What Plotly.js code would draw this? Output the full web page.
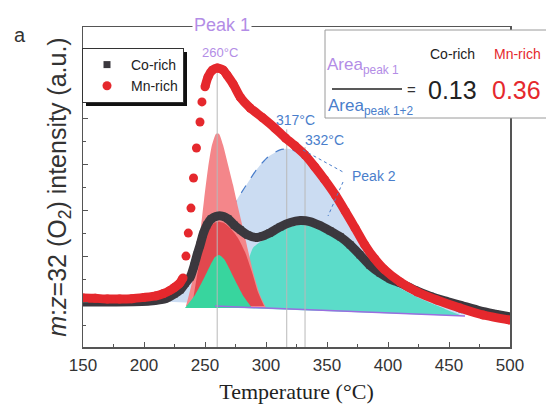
<!DOCTYPE html>
<html><head><meta charset="utf-8">
<script src="https://cdn.plot.ly/plotly-3.0.1.min.js"></script>
<style>html,body{margin:0;padding:0;background:#fff;}#chart{width:546px;height:406px;}</style>
</head><body><div id="chart"></div>
<script>
// ---- data (temperature in °C, intensity in arbitrary units) ----
const mnT = [150,160,170,180,190,200,210,216,221,225,229,232,234.4,236.3,238.5,240.6,243,245.9,247.5,250,252.5,256,260,265,268,273,279,287,297,307,316,324,332,340,348,357,365,373,381,389,397,410,424,440,459,478,500];
const mnV = [15.3,15.2,15.0,15.0,15.1,15.5,16.0,16.7,17.6,18.6,19.8,21.6,28.4,35.6,43.4,52.8,62.2,70.3,76.6,81.3,84.4,86.5,87.2,86.5,85,82.2,78,74.7,71.7,68.5,65.3,62.8,60,56.3,52.3,47.4,42.4,37.2,31.9,27.6,24.2,20.3,17.2,14.7,12.2,10,8.4];

const coT = [150,177,205,217,225,229.5,234,238,241,243.5,246,248.5,251.5,255,260,264,269,274,279,285,292,297.5,303,311.5,320,328,336,344,352.5,361,369,377,385,393.5,401.5,410,422,434.5,446.5,459,475.5,488,500];
const coV = [14.1,14.1,14.4,15,16.6,17.8,20,21.9,25.3,28.8,31.9,35.3,38.1,40,40.9,40.9,40,38.1,36.6,35,34.2,34.7,35.6,37.5,38.9,39.5,39.2,38,36.3,34.4,31.9,28.8,25.6,23.1,21.3,20,17.8,15.9,14.4,13.1,11.3,10.3,9.4];

// deconvoluted peak areas (outline)
const mnPeak2T = [204.9,221.3,237.7,250,262.3,273,282.8,292.6,301.6,311.5,319.7,327.9,336.1,344.3,352.5,360.7,368.9,377,385.2,393.4,401.6,409.8,426.2,442.6,459,467.2];
const mnPeak2V = [14.4,17.8,23.4,29.7,37.2,44.1,50,55.6,59.4,61.6,61.9,60.3,57.2,53.1,49.1,44.4,39.1,33.8,28.8,24.7,21.9,19.4,15.9,13.4,10.9,10];

const coPeak2T = [277,281.1,285.2,289.3,295.1,303.3,311.5,319.7,327.9,336.1,344.3,352.5,360.7,368.9,377,385.2,393.4,401.6,409.8,422.1,434.4,446.7,454.9,460.7];
const coPeak2V = [12.2,19.4,26.6,30.9,32.8,34.4,36.3,37.5,38.1,37.8,36.6,35,33.1,30.6,27.5,24.4,21.9,20,18.4,15.9,13.8,11.9,10.6,9.7];

const mnPeak1T = [234.4,241.8,245.9,249.2,252.5,255.7,259,261.5,264.8,268.9,273,277,281.1,285.2,290.1,295.1,300];
const mnPeak1V = [12.8,24.1,35,45.9,55.9,63.1,66.6,66.6,63.1,56.9,50.6,43.75,37.2,30.3,22.5,16.25,12.2];

const mnPeak1CoreT = [239.3,244.3,249.2,254.1,259.8,265.6,271.3,277,282.8,288.5,293.4,298.4];
const mnPeak1CoreV = [12.8,24.1,33.4,37.8,39.1,38.75,36.9,34.1,29.7,23.4,17.2,12.8];

const coPeak1T = [233.6,241.8,248.4,254.1,258.2,261.5,265.6,270.5,276.2,282,288.5];
const coPeak1V = [12.2,16.25,20.9,25.3,28.1,28.75,27.5,24.1,19.7,15.6,12.2];

const baseT = [258.2,463.1];
const baseV = [12.8,9.7];

const peakTemps = [260,317,332];
const peakLabels = ['260°C','317°C','332°C'];
const ratioCo = '0.13';
const ratioMn = '0.36';

// ---- styling ----
const RED = '#e5282d', DARK = '#3b383e', LAV = '#b38de6', BLUE = '#4a7ecb';
const SANS = 'Liberation Sans, Arial, sans-serif';

// Mn-rich line broken where the signal rises steeply (shown as separate dots)
const mnLX = [], mnLY = [];
for (let i = 0; i < mnT.length; i++) {
  if (i > 0) {
    const s = Math.abs((mnV[i] - mnV[i-1]) / (mnT[i] - mnT[i-1]));
    if (s > 1.5) { mnLX.push(null); mnLY.push(null); }
  }
  mnLX.push(mnT[i]); mnLY.push(mnV[i]);
}

const lineTops = [87, 68, 62.5];
const vx = [], vy = [];
peakTemps.forEach((t, i) => { vx.push(t, t, null); vy.push(0, lineTops[i], null); });

const area = (x, y, fill, line) => ({
  x: x, y: y, type: 'scatter', mode: 'lines', fill: 'toself', fillcolor: fill,
  line: line || {width: 0, color: fill, shape: 'spline', smoothing: 0.6},
  hoverinfo: 'skip', showlegend: false
});

const traces = [
  area(mnPeak2T, mnPeak2V, '#cbdcf2', {width: 1.2, color: BLUE, dash: 'dash', shape: 'spline', smoothing: 0.6}),
  area(coPeak2T, coPeak2V, '#5bdcc9'),
  area(mnPeak1T, mnPeak1V, '#f4868a'),
  area(mnPeak1CoreT, mnPeak1CoreV, '#e2484e'),
  area(coPeak1T, coPeak1V, '#38d59e'),
  {x: baseT, y: baseV, type: 'scatter', mode: 'lines', line: {color: '#9b6ee0', width: 1.5}, showlegend: false, hoverinfo: 'skip'},
  {x: vx, y: vy, type: 'scatter', mode: 'lines', line: {color: '#b9b9b9', width: 1}, showlegend: false, hoverinfo: 'skip'},
  {x: coT, y: coV, type: 'scatter', mode: 'lines', line: {color: DARK, width: 9, shape: 'spline', smoothing: 0.6}, showlegend: false, hoverinfo: 'skip'},
  {x: coT, y: coV, type: 'scatter', mode: 'markers', name: 'Co-rich', marker: {symbol: 'square', size: 7, color: DARK}},
  {x: mnLX, y: mnLY, type: 'scatter', mode: 'lines', line: {color: RED, width: 9, shape: 'spline', smoothing: 0.6}, showlegend: false, hoverinfo: 'skip'},
  {x: mnT, y: mnV, type: 'scatter', mode: 'markers', name: 'Mn-rich', marker: {symbol: 'circle', size: 9, color: RED}}
];

// paper helpers from pixel positions of the figure
const PX = p => (p - 83) / 427, PY = p => (347 - p) / 320;

const ann = [
  {text: 'a', x: PX(20), y: PY(35), font: {size: 20, color: '#333', family: SANS}},
  {text: 'Peak 1', x: PX(222), y: PY(25), font: {size: 18, color: LAV, family: SANS}, bgcolor: '#fff', borderpad: 1},
  {text: peakLabels[0], x: PX(220), y: PY(52), font: {size: 13, color: LAV, family: SANS}},
  {text: peakLabels[1], x: PX(295), y: PY(120), font: {size: 14, color: BLUE, family: SANS}},
  {text: peakLabels[2], x: PX(324), y: PY(140), font: {size: 14, color: BLUE, family: SANS}},
  {text: 'Peak 2', x: PX(374), y: PY(176), font: {size: 14, color: BLUE, family: SANS}},
  {text: 'Area<sub>peak 1</sub>', x: PX(325), y: PY(66), xanchor: 'left', font: {size: 17, color: LAV, family: SANS}},
  {text: '=', x: PX(411), y: PY(89), font: {size: 15, color: '#333', family: SANS}},
  {text: 'Area<sub>peak 1+2</sub>', x: PX(326), y: PY(107), xanchor: 'left', font: {size: 17, color: BLUE, family: SANS}},
  {text: 'Co-rich', x: PX(452), y: PY(54), font: {size: 14, color: '#222', family: SANS}},
  {text: 'Mn-rich', x: PX(517), y: PY(54), font: {size: 14, color: RED, family: SANS}},
  {text: ratioCo, x: PX(452), y: PY(90), font: {size: 25, color: '#222', family: SANS}},
  {text: ratioMn, x: PX(516), y: PY(90), font: {size: 25, color: RED, family: SANS}}
].map(a => Object.assign({xref: 'paper', yref: 'paper', showarrow: false, xanchor: 'center', yanchor: 'middle'}, a));

const shapes = [
  // ratio box
  {type: 'rect', xref: 'paper', yref: 'paper', x0: PX(325), x1: PX(580), y0: PY(118), y1: PY(30), fillcolor: '#fff', line: {color: '#9a9a9a', width: 1}, layer: 'above'},
  {type: 'line', xref: 'paper', yref: 'paper', x0: PX(332), x1: PX(402), y0: PY(89), y1: PY(89), line: {color: '#222', width: 1.5}, layer: 'above'},
  // legend shadow (resized to the legend after drawing)
  {type: 'rect', xref: 'paper', yref: 'paper', x0: PX(86), x1: PX(190), y0: PY(100), y1: PY(51), fillcolor: '#111', line: {width: 0}, layer: 'above'},
  // Peak 2 leaders
  {type: 'line', xref: 'paper', yref: 'paper', x0: PX(303), x1: PX(343), y0: PY(150), y1: PY(172), line: {color: BLUE, width: 1, dash: 'dot'}, layer: 'above'},
  {type: 'line', xref: 'paper', yref: 'paper', x0: PX(343), x1: PX(328), y0: PY(182), y1: PY(216), line: {color: BLUE, width: 1, dash: 'dot'}, layer: 'above'}
];

const layout = {
  width: 546, height: 406,
  margin: {l: 83, r: 36, t: 27, b: 59},
  paper_bgcolor: '#fff', plot_bgcolor: '#fff',
  font: {family: SANS, color: '#333'},
  xaxis: {
    range: [150, 500], dtick: 50, tick0: 150, ticks: 'inside', ticklen: 5, tickcolor: '#555',
    minor: {dtick: 25, ticks: 'inside', ticklen: 3, tickcolor: '#555'},
    showline: true, linecolor: '#555', linewidth: 1.5, mirror: true, showgrid: false, zeroline: false,
    tickfont: {size: 17, color: '#333', family: SANS}, ticklabelstandoff: 2,
    title: {text: 'Temperature (°C)', font: {family: 'Liberation Serif, Times New Roman, serif', size: 22, color: '#222'}, standoff: 9}
  },
  yaxis: {
    range: [0, 100], showticklabels: false, ticks: 'inside', ticklen: 5, tickcolor: '#555',
    tick0: 14.06, dtick: 14.375,
    minor: {tick0: 14.06, dtick: 7.1875, ticks: 'inside', ticklen: 3, tickcolor: '#555'},
    showline: true, linecolor: '#555', linewidth: 1.5, mirror: true, showgrid: false, zeroline: false,
    title: {text: '<i>m</i>:<i>z</i>=32 (O<sub>2</sub>) intensity (a.u.)', font: {size: 25, color: '#333', family: SANS}, standoff: 8}
  },
  legend: {x: PX(82), y: PY(48), xanchor: 'left', yanchor: 'top', bgcolor: '#fff', bordercolor: '#333', borderwidth: 1,
    font: {size: 14, color: '#222', family: SANS}, tracegroupgap: 0, itemwidth: 38},
  annotations: ann,
  shapes: shapes
};

Plotly.newPlot('chart', traces, layout, {staticPlot: true, displayModeBar: false}).then(gd => {
  const bg = gd.querySelector('.legend .bg');
  const svg = gd.querySelector('.main-svg');
  if (bg && svg) {
    const r = bg.getBoundingClientRect(), g = svg.getBoundingClientRect();
    const off = 3.5;
    return Plotly.relayout(gd, {
      'shapes[2].x0': PX(r.left - g.left + off), 'shapes[2].x1': PX(r.right - g.left + off),
      'shapes[2].y0': PY(r.bottom - g.top + off), 'shapes[2].y1': PY(r.top - g.top + off)
    });
  }
});
</script>
</body></html>
